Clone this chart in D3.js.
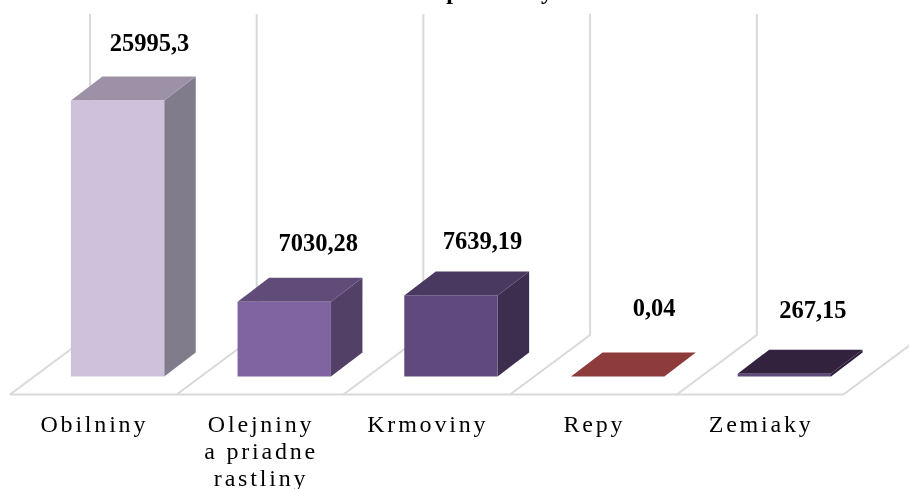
<!DOCTYPE html>
<html>
    <head>
        <meta charset="utf-8">
        <script src="https://d3js.org/d3.v7.min.js"></script>
        <style>
          html, body { margin: 0; padding: 0; background: #fff; overflow: hidden; }
          text { font-family: "Liberation Serif", serif; fill: #000; }
          .value { font-size: 24.5px; font-weight: bold; text-anchor: middle; }
          .cat { font-size: 24px; text-anchor: middle; letter-spacing: 2.8px; }
          .title { font-size: 24px; font-weight: bold; text-anchor: middle; }
        </style>
    </head>
    <body>
        <div id="my_dataviz"></div>
        <script>
            // chart data
            const categories = ["Obilniny", "Olejniny a priadne rastliny", "Krmoviny", "Repy", "Zemiaky"];
            const values = [25995.3, 7030.28, 7639.19, 0.04, 267.15];
            const valueLabels = ["25995,3", "7030,28", "7639,19", "0,04", "267,15"];
            const categoryLines = [["Obilniny"], ["Olejniny", "a priadne", "rastliny"], ["Krmoviny"], ["Repy"], ["Zemiaky"]];

            // bar colours: front, top, side
            const frontColors = ["#cdc1dc", "#8063a1", "#604a7b", "#8e3b3a", "#5e4a7a"];
            const topColors = ["#9c91a6", "#614c79", "#4a395e", "#8e3b3a", "#33243e"];
            const sideColors = ["#807b8c", "#523f66", "#3e2f50", "#8e3b3a", "#2c1f38"];

            // hand placed value labels, relative to the bar centre and top
            const labelDx = [32, 34, 31.5, 36.5, 28.5];
            const labelDy = [-50, -50.6, -46.7, -60, -56];

            const width = 909, height = 489;
            const floorY = 394.5, floorLeft = 10, floorRight = 843.5;
            const wallTop = 14, wallX = 80, wallY = 59.5;   // floor depth on screen
            const barInset = 18, barDx = 31.5, barDy = 24;  // bar depth on screen

            const svg = d3.select("#my_dataviz")
              .append("svg")
                .attr("width", width)
                .attr("height", height);

            const x = d3.scaleBand()
              .domain(categories)
              .range([floorLeft, floorRight])
              .paddingInner(0.44)
              .paddingOuter(0.22);

            const y = d3.scaleLinear()
              .domain([0, 30000])
              .range([floorY - barInset, floorY - barInset - 318.5]);

            const step = x.step();
            const insetX = barInset * wallX / wallY;
            const poly = d3.line();

            // the slight softness of the picture
            svg.append("filter").attr("id", "soft")
              .append("feGaussianBlur").attr("stdDeviation", 0.4);

            const chart = svg.append("g").attr("filter", "url(#soft)");

            // floor and back wall lines
            const grid = chart.append("g")
              .attr("fill", "none")
              .attr("stroke", "#d9d9d9")
              .attr("stroke-width", 2);

            grid.append("line")
              .attr("x1", floorLeft).attr("x2", floorRight)
              .attr("y1", floorY).attr("y2", floorY);

            grid.selectAll("path")
              .data(d3.range(categories.length + 1))
              .join("path")
                .attr("d", i => {
                  const x0 = floorLeft + i * step;
                  return poly([[x0, floorY], [x0 + wallX, floorY - wallY], [x0 + wallX, wallTop]]);
                });

            // bars as three faces
            const bars = chart.selectAll(".bar")
              .data(categories)
              .join("g")
                .attr("class", "bar");

            const barLeft = d => x(d) + insetX;
            const barRight = d => barLeft(d) + x.bandwidth();
            const barBase = y(0);
            const barTop = (d, i) => y(values[i]);

            bars.append("path")
              .attr("fill", (d, i) => sideColors[i])
              .attr("d", (d, i) => poly([
                [barRight(d), barBase], [barRight(d) + barDx, barBase - barDy],
                [barRight(d) + barDx, barTop(d, i) - barDy], [barRight(d), barTop(d, i)]
              ]));

            bars.append("path")
              .attr("fill", (d, i) => topColors[i])
              .attr("d", (d, i) => poly([
                [barLeft(d), barTop(d, i)], [barLeft(d) + barDx, barTop(d, i) - barDy],
                [barRight(d) + barDx, barTop(d, i) - barDy], [barRight(d), barTop(d, i)]
              ]));

            bars.append("rect")
              .attr("fill", (d, i) => frontColors[i])
              .attr("x", barLeft)
              .attr("y", barTop)
              .attr("width", x.bandwidth())
              .attr("height", (d, i) => barBase - barTop(d, i));

            // value labels
            chart.selectAll(".value")
              .data(categories)
              .join("text")
                .attr("class", "value")
                .attr("x", (d, i) => barLeft(d) + x.bandwidth() / 2 + labelDx[i])
                .attr("y", (d, i) => barTop(d, i) + labelDy[i])
                .text((d, i) => valueLabels[i]);

            // category labels
            chart.selectAll(".cat")
              .data(categories)
              .join("text")
                .attr("class", "cat")
                .attr("y", 431.5)
                .each(function(d, i) {
                  d3.select(this).selectAll("tspan")
                    .data(categoryLines[i])
                    .join("tspan")
                      .attr("x", x(d) + x.bandwidth() / 2 + 1)
                      .attr("dy", (l, j) => j ? 27 : 0)
                      .text(l => l);
                });

            // only the descenders of the title are left in the picture, its top is cut off
            chart.selectAll(".title")
              .data([["p", 453], ["y", 547]])
              .join("text")
                .attr("class", "title")
                .attr("x", d => d[1])
                .attr("y", -1)
                .text(d => d[0]);
        </script>
    </body>
</html>
